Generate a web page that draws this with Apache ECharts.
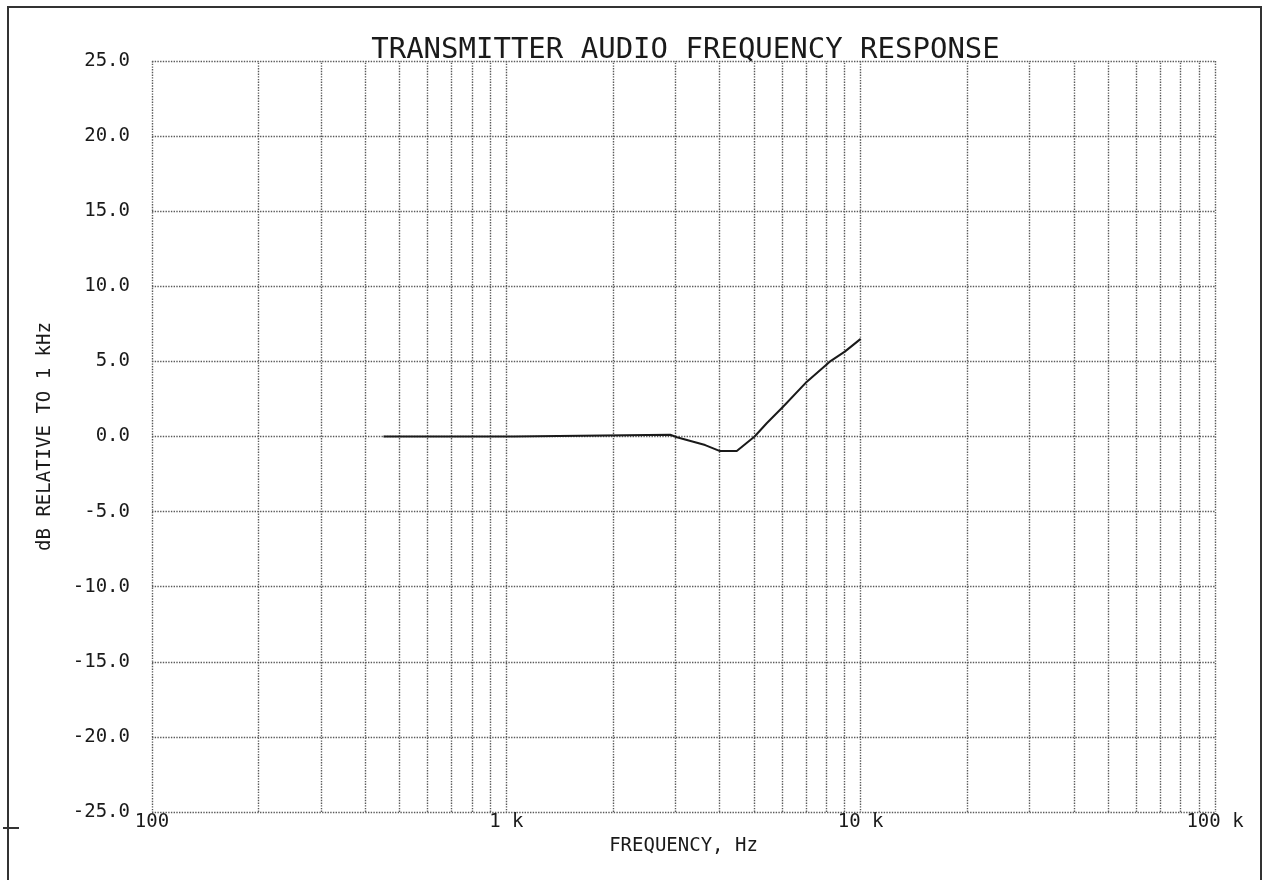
<!DOCTYPE html>
<html>
<head>
<meta charset="utf-8">
<title>Transmitter Audio Frequency Response</title>
<script src="https://cdn.jsdelivr.net/npm/echarts@6/dist/echarts.min.js"></script>
<style>
  html, body { margin: 0; padding: 0; background: #fff; }
  #chart { width: 1263px; height: 880px; }
</style>
</head>
<body>
<div id="chart"></div>
<script>
// Measured response, frequency in Hz and level in dB relative to 1 kHz
const frequencyHz = [450, 1050, 1060, 2900, 3030, 3370, 3640, 4010, 4470, 5020, 5430, 6040, 7050, 8180, 9020, 10000];
const levelDb     = [0.0, 0.0, 0.12, 0.12, -0.05, -0.35, -0.57, -0.97, -0.97, 0.0, 0.88, 1.98, 3.65, 4.98, 5.65, 6.5];

// Decade labels on the frequency axis
const decadeValues = [100, 1000, 10000, 100000];
const decadeLabels = ['100', '1 k', '10 k', '100 k'];

// Intermediate log-grid frequencies (2..9 within each decade)
const minorFrequencies = [
  200, 300, 400, 500, 600, 700, 800, 900,
  2000, 3000, 4000, 5000, 6000, 7000, 8000, 9000,
  20000, 30000, 40000, 50000, 60000, 70000, 80000, 90000
];

const FONT = '"DejaVu Sans Mono", "Liberation Mono", monospace';
const INK = '#1a1a1a';
const dotted = { color: '#5a5a5a', width: 1.4, type: [1.4, 1.3] };

const GRID = { left: 152, right: 48, top: 61, bottom: 68 };
const CHART_W = 1263;

const chart = echarts.init(document.getElementById('chart'), null, { renderer: 'canvas' });

chart.setOption({
  animation: false,
  backgroundColor: '#fff',
  title: {
    text: 'TRANSMITTER AUDIO FREQUENCY RESPONSE',
    // centred over the plotting area
    left: GRID.left + (CHART_W - GRID.left - GRID.right) / 2 - 3,
    textAlign: 'center',
    top: 31,
    textStyle: { fontFamily: FONT, fontSize: 29, fontWeight: 'normal', color: INK }
  },
  grid: Object.assign({ containLabel: false, show: false }, GRID),
  xAxis: {
    type: 'log',
    logBase: 10,
    min: 100,
    max: 100000,
    name: 'FREQUENCY, Hz',
    nameLocation: 'middle',
    nameGap: 20,
    nameTextStyle: { fontFamily: FONT, fontSize: 19, color: INK, verticalAlign: 'top' },
    // plot edges come from the dotted split lines at min and max
    axisLine: { show: false, onZero: false },
    axisTick: { show: false },
    splitLine: { show: true, lineStyle: dotted },
    axisLabel: {
      fontFamily: FONT, fontSize: 19, color: INK, margin: 1,
      verticalAlign: 'top',
      showMinLabel: true, showMaxLabel: true,
      formatter: function (v) {
        const i = decadeValues.findIndex(d => Math.abs(d - v) / d < 1e-6);
        return i >= 0 ? decadeLabels[i] : '';
      }
    }
  },
  yAxis: {
    type: 'value',
    min: -25,
    max: 25,
    interval: 5,
    name: 'dB RELATIVE TO 1 kHz',
    nameLocation: 'middle',
    nameGap: 97,
    nameRotate: 90,
    nameTextStyle: { fontFamily: FONT, fontSize: 19, color: INK },
    axisLine: { show: false, onZero: false },
    axisTick: { show: false },
    splitLine: { show: true, lineStyle: dotted },
    axisLabel: {
      fontFamily: FONT, fontSize: 19, color: INK, margin: 22,
      formatter: v => v.toFixed(1)
    }
  },
  series: [{
    type: 'line',
    data: frequencyHz.map((f, i) => [f, levelDb[i]]),
    showSymbol: false,
    symbol: 'none',
    lineStyle: { color: INK, width: 2 },
    z: 5,
    markLine: {
      silent: true,
      symbol: ['none', 'none'],
      label: { show: false },
      lineStyle: dotted,
      animation: false,
      data: minorFrequencies.map(f => ({ xAxis: f }))
    }
  }],
  graphic: [
    // page frame
    { type: 'polyline', shape: { points: [[8, 880], [8, 7], [1261, 7], [1261, 880]] },
      style: { stroke: '#333', lineWidth: 2, fill: null } },
    { type: 'line', shape: { x1: 3, y1: 828, x2: 19, y2: 828 },
      style: { stroke: '#333', lineWidth: 2 } }
  ]
});
</script>
</body>
</html>
